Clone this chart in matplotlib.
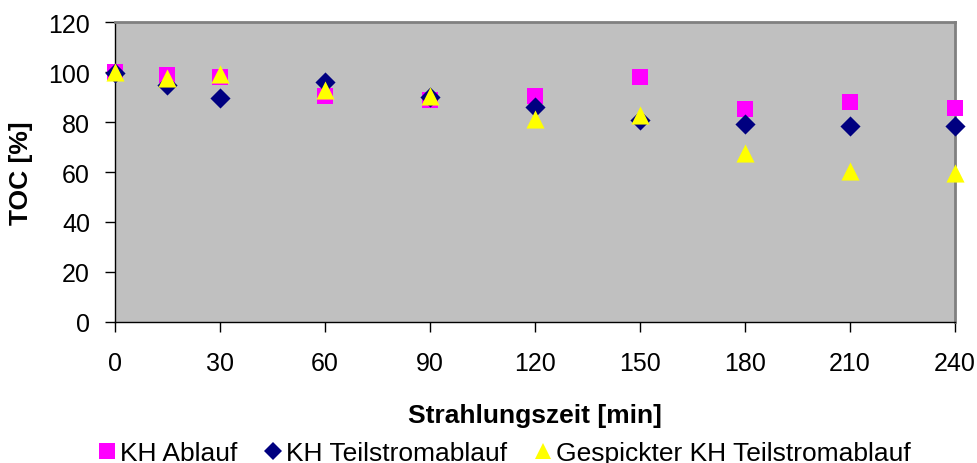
import matplotlib
matplotlib.use("Agg")
import matplotlib.pyplot as plt
from matplotlib.lines import Line2D

plt.rcParams['font.family'] = ['Liberation Sans', 'DejaVu Sans']

# time points [min]
zeit = [0, 15, 30, 60, 90, 120, 150, 180, 210, 240]
# TOC [%] per series
kh_ablauf = [100, 99, 98, 90.4, 89, 90.5, 98, 85.2, 88, 85.6]
kh_teilstrom = [99.5, 95, 89.6, 96, 90, 86, 80.8, 79.4, 78.4, 78.4]
gespickt = [100, 97.6, 99.4, 93, 90.4, 81.2, 82.8, 67.6, 60.4, 59.6]
x_ticks = [0, 30, 60, 90, 120, 150, 180, 210, 240]
y_ticks = [0, 20, 40, 60, 80, 100, 120]

fig = plt.figure(figsize=(9.77, 4.64), dpi=100)
ax = fig.add_axes([0.1177, 0.3039, 0.8598, 0.6465])
ax.set_facecolor('#C0C0C0')

ax.scatter(zeit, kh_ablauf, marker='s', s=140, color='#FF00FF', linewidths=0, zorder=3, clip_on=False)
ax.scatter(zeit, kh_teilstrom, marker='D', s=105, color='#000080', linewidths=0, zorder=4, clip_on=False)
ax.scatter(zeit, gespickt, marker='^', s=170, color='#FFFF00', linewidths=0, zorder=5, clip_on=False)

ax.set_xlim(0, 240)
ax.set_ylim(0, 120)
ax.set_xticks(x_ticks)
ax.set_yticks(y_ticks)
ax.tick_params(labelsize=18, length=7, width=1, color='black')
ax.tick_params(axis='y', pad=11)
ax.tick_params(axis='x', pad=14)

for side in ['top', 'right']:
    ax.spines[side].set_color('#808080')
    ax.spines[side].set_linewidth(2)
for side in ['left', 'bottom']:
    ax.spines[side].set_color('black')
    ax.spines[side].set_linewidth(1)

ax.set_xlabel('Strahlungszeit [min]', fontsize=19, fontweight='bold')
ax.set_ylabel('TOC [%]', fontsize=19, fontweight='bold')
ax.xaxis.set_label_coords(0.5, -0.27)
ax.yaxis.set_label_coords(-0.098, 0.5)

handles = [
    Line2D([], [], marker='s', linestyle='None', markersize=11, color='#FF00FF', markeredgewidth=0),
    Line2D([], [], marker='D', linestyle='None', markersize=9, color='#000080', markeredgewidth=0),
    Line2D([], [], marker='^', linestyle='None', markersize=12, color='#FFFF00', markeredgewidth=0),
]
labels = ['KH Ablauf', 'KH Teilstromablauf', 'Gespickter KH Teilstromablauf']
fig.legend(handles, labels, loc='center', bbox_to_anchor=(0.515, 0.022), ncol=3, frameon=False,
           fontsize=19, handletextpad=0.05, columnspacing=0.9, handlelength=0.9,
           borderpad=0, borderaxespad=0)

fig.savefig('out.png', dpi=100)
